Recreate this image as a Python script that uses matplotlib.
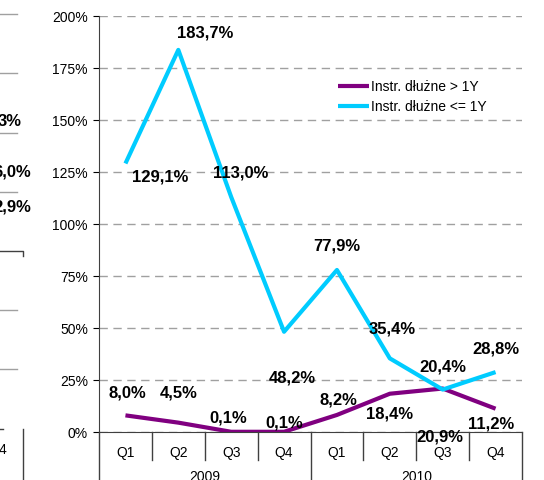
import matplotlib.pyplot as plt
from matplotlib.lines import Line2D
from matplotlib.transforms import blended_transform_factory

plt.rcParams['font.family'] = ['Liberation Sans', 'DejaVu Sans']

# Data
quarters = ['Q1', 'Q2', 'Q3', 'Q4', 'Q1', 'Q2', 'Q3', 'Q4']
years = ['2009', '2010']
long_debt = [8.0, 4.5, 0.1, 0.1, 8.2, 18.4, 20.9, 11.2]
short_debt = [129.1, 183.7, 113.0, 48.2, 77.9, 35.4, 20.4, 28.8]
series_names = ['Instr. dłużne > 1Y', 'Instr. dłużne <= 1Y']

# label offsets (pixels) from each point
long_offsets = [(2, 22), (0, 30), (-3, 14), (0, 9), (2, 15), (0, -20), (-3, -48), (-4, -15)]
short_offsets = [(35, -14), (27, 17), (9, 24), (8, -46), (0, 24), (2, 29), (0, 23), (0, 23)]

purple = '#800080'
cyan = '#00CCFF'

fig = plt.figure(figsize=(5.44, 4.8), dpi=100)
ax = fig.add_axes([99 / 544, 48 / 480, 423 / 544, 416 / 480])

x = list(range(len(quarters)))
ax.plot(x, long_debt, color=purple, lw=3, label=series_names[0], solid_capstyle='butt')
ax.plot(x, short_debt, color=cyan, lw=3, label=series_names[1], solid_capstyle='butt')


def fmt(v):
    return f'{v:.1f}'.replace('.', ',') + '%'


for vals, offs in [(long_debt, long_offsets), (short_debt, short_offsets)]:
    for i, (v, o) in enumerate(zip(vals, offs)):
        ax.annotate(fmt(v), (i, v), xytext=o, textcoords='offset pixels',
                    ha='center', va='center', fontsize=12, fontweight='bold',
                    annotation_clip=False)

ax.set_xlim(-0.5, 7.5)
ax.set_ylim(0, 200)
ax.set_yticks(range(0, 201, 25))
ax.set_yticklabels([f'{t}%' for t in range(0, 201, 25)])
ax.tick_params(axis='y', length=4, pad=4, labelsize=10, colors='black')
ax.yaxis.grid(True, color='#a0a0a0', lw=1, linestyle=(0, (6, 4)))
ax.set_axisbelow(True)

for s in ['top', 'right']:
    ax.spines[s].set_visible(False)
ax.spines['left'].set_color('#404040')
ax.spines['bottom'].set_color('#404040')

# category axis with two levels
ax.set_xticks(x)
ax.set_xticklabels(quarters, fontsize=10)
ax.tick_params(axis='x', length=0, pad=10)
tr = blended_transform_factory(ax.transData, ax.transAxes)
for i in range(len(quarters) + 1):
    bottom = -48 / 416 if i % 4 == 0 else -28 / 416
    ax.plot([i - 0.5, i - 0.5], [0, bottom], color='#404040', lw=1,
            transform=tr, clip_on=False)
for j, yr in enumerate(years):
    ax.text(1.5 + 4 * j, -45 / 416, yr, transform=tr, ha='center', va='center',
            fontsize=10)

ax.legend(loc='upper left', bbox_to_anchor=((338 - 99) / 423, (432 - 80) / 416),
          frameon=False, fontsize=10, handlelength=2.2, handletextpad=0.2,
          labelspacing=0.45, borderaxespad=0, borderpad=0)


# fragment of neighbouring chart on the left
def px(xp, yp):
    return xp / 544, 1 - yp / 480


for yp in [14, 73, 133, 192, 310, 369]:
    (x0, y0), (x1, y1) = px(0, yp), px(17, yp)
    fig.add_artist(Line2D([x0, x1], [y0, y1], color='#a0a0a0', lw=1))
for xp, yp, t in [(22, 121, '3%'), (31, 172, '6,0%'), (31, 207, '2,9%')]:
    fig.text(*px(xp, yp), t, ha='right', va='center', fontsize=12, fontweight='bold')
a, b, c = px(0, 251), px(23, 251), px(23, 256)
fig.add_artist(Line2D([a[0], b[0], c[0]], [a[1], b[1], c[1]], color='#404040', lw=1))
a, b = px(0, 429), px(3, 429)
fig.add_artist(Line2D([a[0], b[0]], [a[1], b[1]], color='#404040', lw=1))
a, b = px(23, 429), px(23, 480)
fig.add_artist(Line2D([a[0], b[0]], [a[1], b[1]], color='#404040', lw=1))
fig.text(*px(6, 450), '4', ha='right', va='center', fontsize=10)

fig.savefig('out.png', dpi=100)
